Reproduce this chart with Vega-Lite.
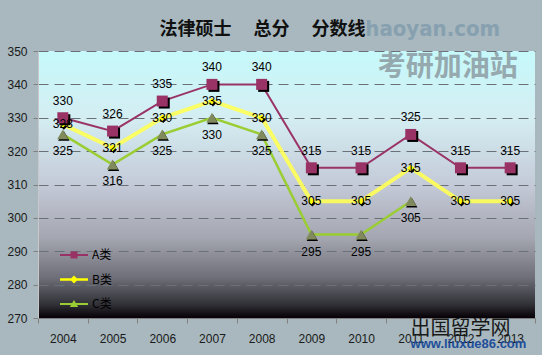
{
  "$schema": "https://vega.github.io/schema/vega-lite/v6.json",
  "width": 497,
  "height": 267,
  "autosize": {"type": "none"},
  "padding": {"left": 38, "top": 51, "right": 7, "bottom": 37},
  "background": "#a8b8be",
  "config": {
    "view": {
      "stroke": null,
      "fill": {"gradient": "linear", "x1": 0, "y1": 0, "x2": 0, "y2": 1, "stops": [
        {"offset": 0, "color": "#c6f9fb"},
        {"offset": 0.25, "color": "#d4eef2"},
        {"offset": 0.5, "color": "#c4cad8"},
        {"offset": 0.7, "color": "#a4a6b0"},
        {"offset": 0.85, "color": "#6e6e78"},
        {"offset": 0.95, "color": "#303036"},
        {"offset": 1, "color": "#050005"}
      ]}
    },
    "axis": {"labelFont": "Liberation Sans", "labelFontSize": 12, "labelColor": "#1a1a1a", "title": null}
  },
  "title": {
    "text": "法律硕士　 总分　 分数线",
    "font": "Noto Sans CJK SC",
    "fontSize": 18,
    "fontWeight": "bold",
    "color": "#111111",
    "anchor": "middle",
    "frame": "group",
    "dx": -24,
    "offset": 0,
    "dy": 21
  },
  "data": {"values": [
    {"year": "2004", "series": "A类", "value": 330},
    {"year": "2005", "series": "A类", "value": 326},
    {"year": "2006", "series": "A类", "value": 335},
    {"year": "2007", "series": "A类", "value": 340},
    {"year": "2008", "series": "A类", "value": 340},
    {"year": "2009", "series": "A类", "value": 315},
    {"year": "2010", "series": "A类", "value": 315},
    {"year": "2011", "series": "A类", "value": 325},
    {"year": "2012", "series": "A类", "value": 315},
    {"year": "2013", "series": "A类", "value": 315},
    {"year": "2004", "series": "B类", "value": 328},
    {"year": "2005", "series": "B类", "value": 321},
    {"year": "2006", "series": "B类", "value": 330},
    {"year": "2007", "series": "B类", "value": 335},
    {"year": "2008", "series": "B类", "value": 330},
    {"year": "2009", "series": "B类", "value": 305},
    {"year": "2010", "series": "B类", "value": 305},
    {"year": "2011", "series": "B类", "value": 315},
    {"year": "2012", "series": "B类", "value": 305},
    {"year": "2013", "series": "B类", "value": 305},
    {"year": "2004", "series": "C类", "value": 325},
    {"year": "2005", "series": "C类", "value": 316},
    {"year": "2006", "series": "C类", "value": 325},
    {"year": "2007", "series": "C类", "value": 330},
    {"year": "2008", "series": "C类", "value": 325},
    {"year": "2009", "series": "C类", "value": 295},
    {"year": "2010", "series": "C类", "value": 295},
    {"year": "2011", "series": "C类", "value": 305}
  ]},
  "encoding": {
    "x": {
      "field": "year", "type": "ordinal",
      "scale": {"type": "band", "paddingInner": 0, "paddingOuter": 0},
      "axis": {"labelAngle": 0, "tickBand": "extent", "tickSize": 5, "tickColor": "#808080", "domainColor": "#808080", "labelPadding": 10, "grid": false}
    },
    "y": {
      "field": "value", "type": "quantitative",
      "scale": {"domain": [270, 350], "nice": false, "zero": false},
      "axis": {"values": [270, 280, 290, 300, 310, 320, 330, 340, 350], "tickSize": 5, "tickColor": "#808080", "domainColor": "#c8c8c8", "labelPadding": 6, "grid": true, "gridColor": "#6a7078", "gridDash": [10, 6], "gridWidth": 1}
    }
  },
  "layer": [
    {
      "mark": {"type": "line", "strokeWidth": 2.5, "color": "#9acd32"},
      "transform": [{"filter": "datum.series === 'C类'"}]
    },
    {
      "mark": {"type": "line", "strokeWidth": 4, "color": "#ffff55", "opacity": 0.9},
      "transform": [{"filter": "datum.series === 'B类'"}]
    },
    {
      "mark": {"type": "line", "strokeWidth": 2, "color": "#993366"},
      "transform": [{"filter": "datum.series === 'A类'"}]
    },
    {
      "mark": {"type": "point", "shape": "triangle-up", "filled": true, "color": "#000000", "size": 130, "opacity": 1, "xOffset": 1, "yOffset": 1.5},
      "transform": [{"filter": "datum.series === 'C类'"}]
    },
    {
      "mark": {"type": "point", "shape": "triangle-up", "filled": true, "color": "#808a5c", "size": 130, "opacity": 1},
      "transform": [{"filter": "datum.series === 'C类'"}]
    },
    {
      "mark": {"type": "point", "shape": "diamond", "filled": true, "color": "#000000", "size": 45, "opacity": 1, "xOffset": 1, "yOffset": 2},
      "transform": [{"filter": "datum.series === 'B类'"}]
    },
    {
      "mark": {"type": "point", "shape": "diamond", "filled": true, "color": "#ffff00", "size": 45, "opacity": 1},
      "transform": [{"filter": "datum.series === 'B类'"}]
    },
    {
      "mark": {"type": "point", "shape": "square", "filled": true, "color": "#000000", "size": 121, "opacity": 1, "xOffset": 2, "yOffset": 2},
      "transform": [{"filter": "datum.series === 'A类'"}]
    },
    {
      "mark": {"type": "point", "shape": "square", "filled": true, "color": "#993366", "size": 121, "opacity": 1},
      "transform": [{"filter": "datum.series === 'A类'"}]
    },
    {
      "mark": {"type": "text", "font": "Liberation Sans", "fontSize": 12, "color": "#000000", "dy": -17, "baseline": "middle"},
      "transform": [{"filter": "datum.series === 'A类'"}],
      "encoding": {"text": {"field": "value", "type": "quantitative"}}
    },
    {
      "mark": {"type": "text", "font": "Liberation Sans", "fontSize": 12, "color": "#000000", "dy": 0, "baseline": "middle"},
      "transform": [{"filter": "datum.series === 'B类'"}],
      "encoding": {"text": {"field": "value", "type": "quantitative"}}
    },
    {
      "mark": {"type": "text", "font": "Liberation Sans", "fontSize": 12, "color": "#000000", "dy": 17, "baseline": "middle"},
      "transform": [{"filter": "datum.series === 'C类'"}],
      "encoding": {"text": {"field": "value", "type": "quantitative"}}
    },
    {
      "mark": {"type": "point", "filled": true, "opacity": 0, "size": 400},
      "encoding": {
        "shape": {
          "field": "series", "type": "nominal",
          "scale": {"domain": ["A类", "B类", "C类"], "range": [
            "M-1.4,-0.1H1.4V0.1H-1.4Z M-0.35,-0.35H0.35V0.35H-0.35Z",
            "M-1.4,-0.13H1.4V0.13H-1.4Z M0,-0.4L0.4,0L0,0.4L-0.4,0Z",
            "M-1.4,-0.1H1.4V0.1H-1.4Z M0,-0.4L0.42,0.3L-0.42,0.3Z"
          ]},
          "legend": {
            "title": null, "orient": "none", "legendX": 26, "legendY": 194,
            "symbolSize": 400, "symbolOpacity": 1, "symbolStrokeWidth": 0,
            "labelFont": "Noto Sans CJK SC", "labelFontSize": 12, "labelColor": "#000000",
            "labelOffset": 8, "rowPadding": 8.5, "padding": 0
          }
        },
        "color": {
          "field": "series", "type": "nominal",
          "scale": {"domain": ["A类", "B类", "C类"], "range": ["#993366", "#ffff00", "#9acd32"]},
          "legend": {
            "title": null, "orient": "none", "legendX": 26, "legendY": 194,
            "symbolSize": 400, "symbolOpacity": 1, "symbolStrokeWidth": 0,
            "labelFont": "Noto Sans CJK SC", "labelFontSize": 12, "labelColor": "#000000",
            "labelOffset": 8, "rowPadding": 8.5, "padding": 0
          }
        }
      }
    },
    {
      "data": {"values": [{"year": "2011", "value": 344.9, "t": "考研加油站"}]},
      "mark": {"type": "text", "font": "Noto Sans CJK SC", "fontSize": 28, "fontWeight": "bold", "color": "#8c9ca2", "opacity": 0.85, "dx": 37, "baseline": "middle"},
      "encoding": {"text": {"field": "t"}}
    },
    {
      "data": {"values": [{"year": "2011", "value": 356.5, "t": "haoyan.com"}]},
      "mark": {"type": "text", "font": "DejaVu Sans Condensed", "fontSize": 22, "fontWeight": "bold", "color": "#7d98ac", "opacity": 0.75, "dx": 22, "baseline": "middle"},
      "encoding": {"text": {"field": "t"}}
    },
    {
      "data": {"values": [{"year": "2012", "value": 266.7, "t": "出国留学网"}]},
      "mark": {"type": "text", "font": "Noto Sans CJK SC", "fontSize": 20, "color": "#1a1a1a", "baseline": "middle"},
      "encoding": {"text": {"field": "t"}}
    },
    {
      "data": {"values": [{"year": "2012", "value": 262.1, "t": "www.liuxue86.com"}]},
      "mark": {"type": "text", "font": "Liberation Sans", "fontSize": 13, "fontWeight": "bold", "color": "#1f4e9a", "dx": 8, "baseline": "middle"},
      "encoding": {"text": {"field": "t"}}
    }
  ]
}
